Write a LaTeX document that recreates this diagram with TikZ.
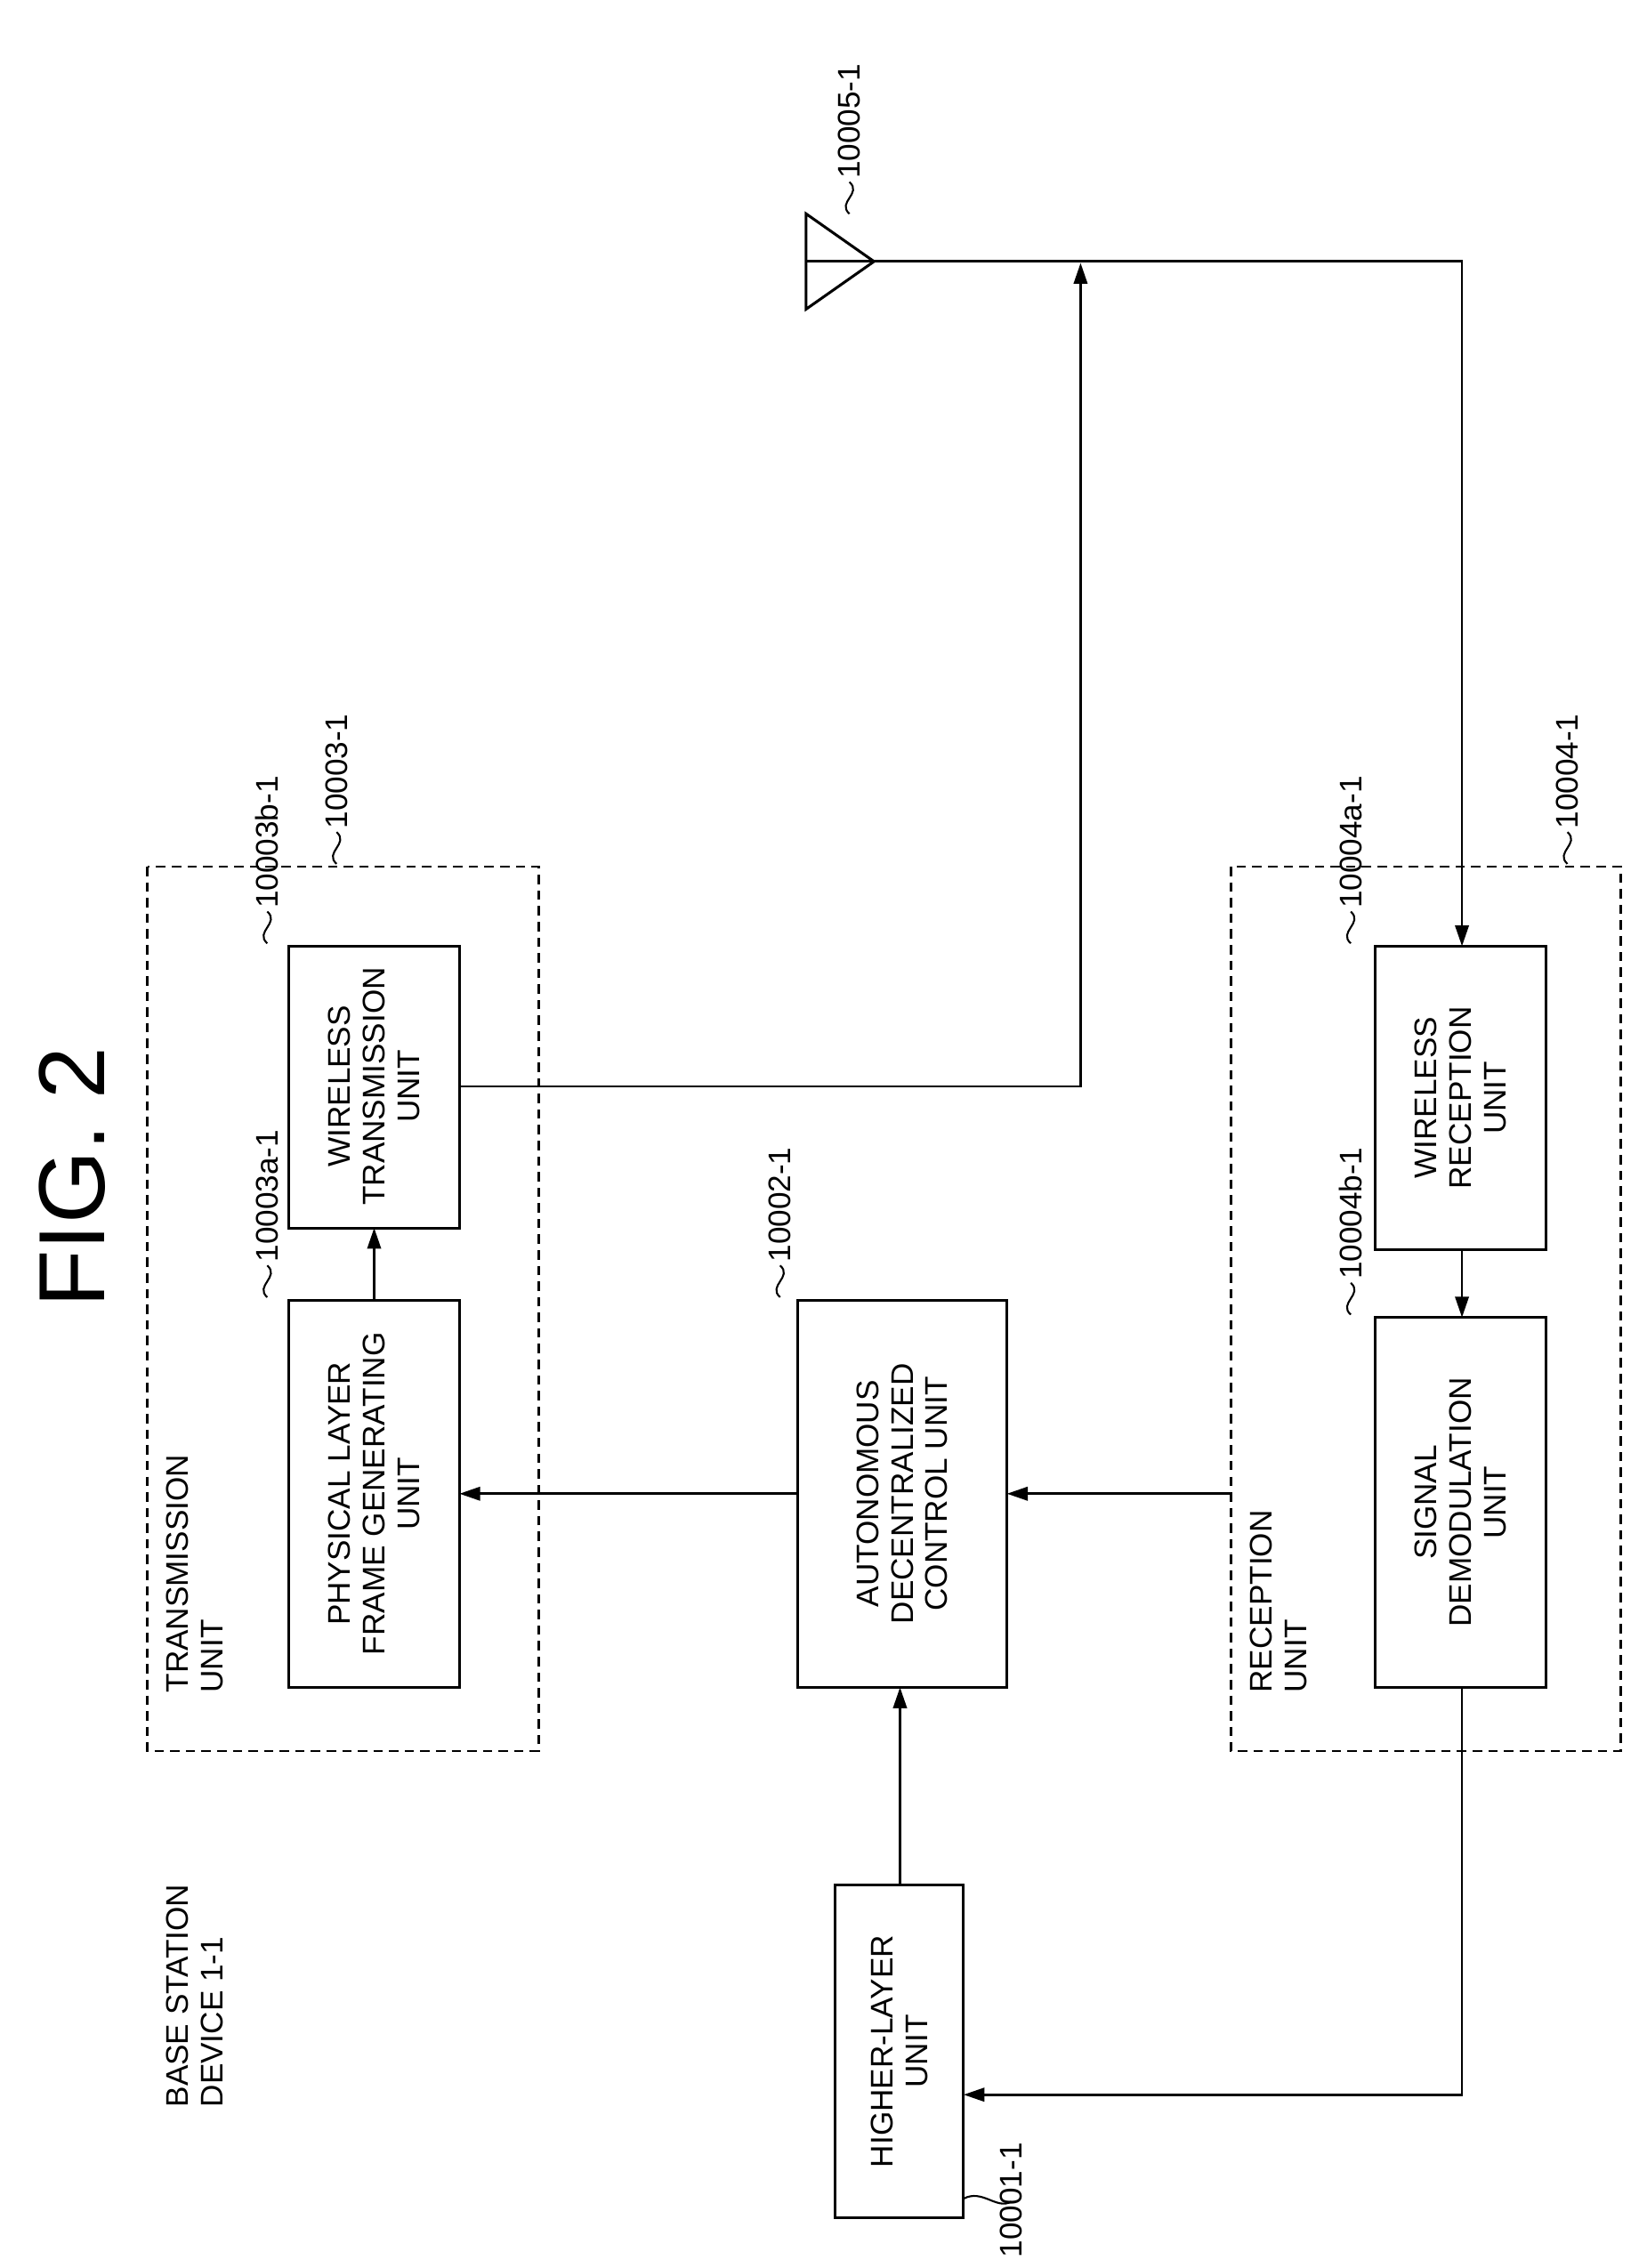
\documentclass[tikz,border=0pt]{standalone}
\usepackage{fontspec}
\setmainfont{Liberation Sans}
\usetikzlibrary{arrows.meta}
\begin{document}
\begin{tikzpicture}[x=0.0487cm,y=-0.0487cm,line width=2.4pt,
  box/.style={draw,line width=2.6pt},
  dbox/.style={draw,line width=2.2pt,dash pattern=on 9pt off 6pt},
  txt/.style={rotate=90,align=center,font=\fontsize{30}{33}\selectfont},
  lab/.style={rotate=90,anchor=west,font=\fontsize{30}{33}\selectfont,inner sep=2pt},
  arr/.style={-{Triangle[length=20pt,width=13pt]}},
  sq/.style={line width=1.8pt}]
\useasboundingbox (0,0) rectangle (1140,1570);
\node[rotate=90,font=\fontsize{90}{90}\selectfont] (fig) at (50,815) {FIG. 2};
\node[txt,align=left,anchor=north west] (bs) at (112,1462) {BASE STATION\\DEVICE 1-1};
% dashed units
\draw[dbox] (102,600) rectangle (373,1212);
\draw[dbox] (852,600) rectangle (1122,1212);
\node[txt,align=left,anchor=north west] (tut) at (112,1175) {TRANSMISSION\\UNIT};
\node[txt,align=left,anchor=north west] (rut) at (862,1175) {RECEPTION\\UNIT};
% boxes
\draw[box] (578,1305) rectangle (667,1535);
\node[txt] (hl) at (622.5,1420) {HIGHER-LAYER\\UNIT};
\draw[box] (552,900) rectangle (697,1168);
\node[txt] (ad) at (624.5,1034) {AUTONOMOUS\\DECENTRALIZED\\CONTROL UNIT};
\draw[box] (200,900) rectangle (318,1168);
\node[txt] (pl) at (259,1034) {PHYSICAL LAYER\\FRAME GENERATING\\UNIT};
\draw[box] (200,655) rectangle (318,850);
\node[txt] (wt) at (259,752) {WIRELESS\\TRANSMISSION\\UNIT};
\draw[box] (952,655) rectangle (1070,865);
\node[txt] (wr) at (1011,760) {WIRELESS\\RECEPTION\\UNIT};
\draw[box] (952,912) rectangle (1070,1168);
\node[txt] (sd) at (1011,1040) {SIGNAL\\DEMODULATION\\UNIT};
% antenna
\draw[line width=2.6pt] (558,148) -- (605,181) -- (558,214) -- cycle;
\draw (558,181) -- (605,181);
\draw (605,181) -- (1012,181) -- (1012,620);
\draw[arr] (1012,600) -- (1012,655);
\draw (318,752) -- (748,752) -- (748,240);
\draw[arr] (748,260) -- (748,182);
% arrows
\draw[arr] (1012,865) -- (1012,912);
\draw[arr] (259,900) -- (259,850);
\draw[arr] (852,1034) -- (697,1034);
\draw[arr] (552,1034) -- (318,1034);
\draw[arr] (623,1305) -- (623,1168);
\draw (1012,1168) -- (1012,1450) -- (720,1450);
\draw[arr] (730,1450) -- (667,1450);
% labels with squiggles
\newcommand\sqlab[3]{%
  \draw[sq] (#1,#2) .. controls (#1-9,#2-8) and (#1+9,#2-14) .. (#1,#2-22);
  \node[lab] at (#1,#2-22) {#3};}
\sqlab{233}{598}{10003-1}
\sqlab{1085}{598}{10004-1}
\sqlab{185}{898}{10003a-1}
\sqlab{185}{653}{10003b-1}
\sqlab{935}{653}{10004a-1}
\sqlab{935}{910}{10004b-1}
\sqlab{540}{898}{10002-1}
\sqlab{588}{148}{10005-1}
\draw[sq] (667,1522) .. controls (680,1515) and (690,1530) .. (700,1524);
\node[lab] (l1) at (700,1565) {10001-1};
\end{tikzpicture}
\end{document}
